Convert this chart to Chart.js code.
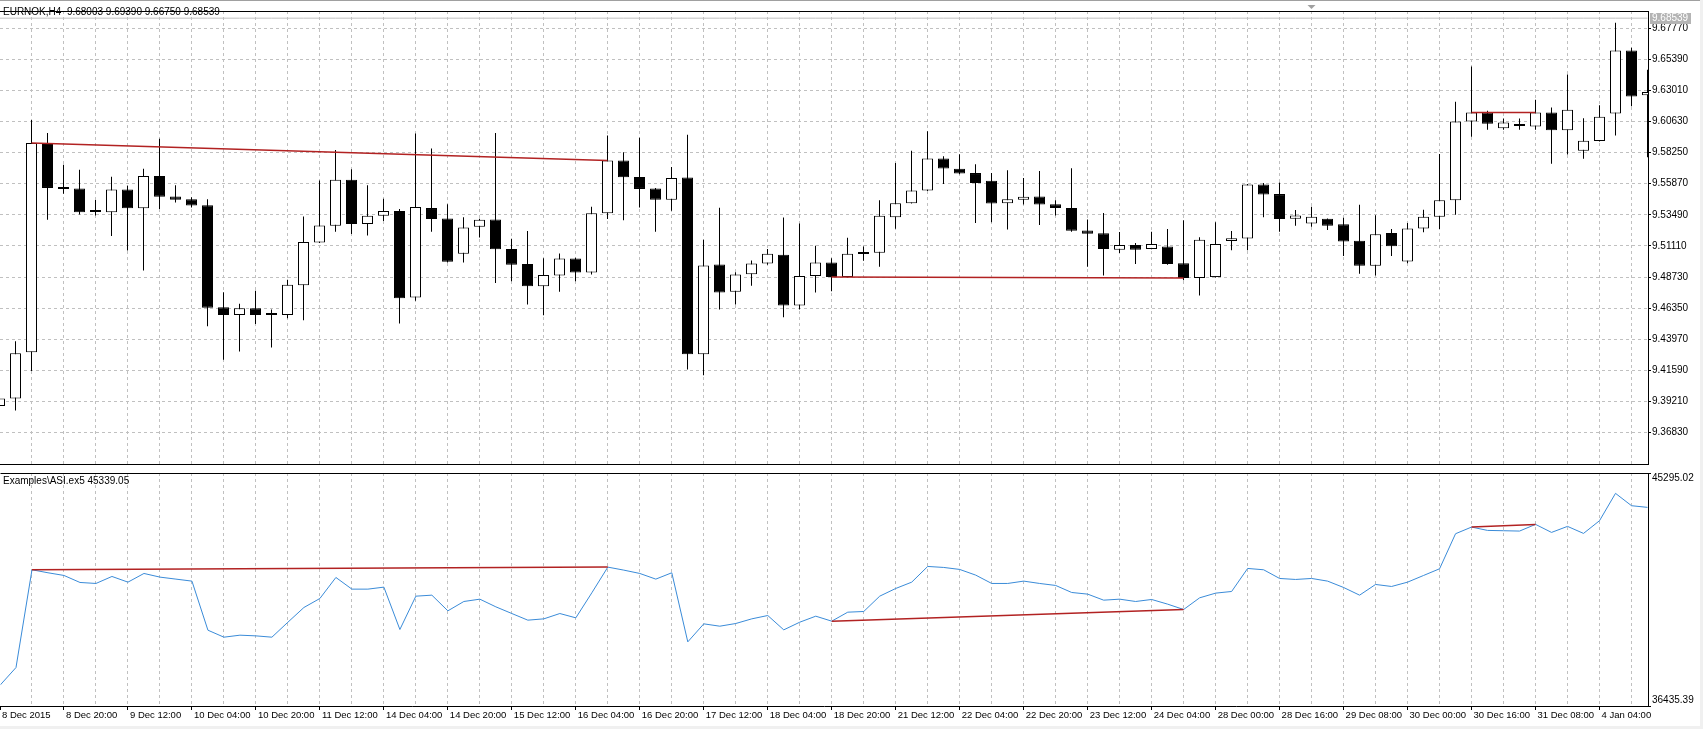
<!DOCTYPE html>
<html><head><meta charset="utf-8">
<script src="https://cdn.jsdelivr.net/npm/chart.js"></script>
<style>
html,body{margin:0;padding:0;background:#fff;width:1703px;height:729px;overflow:hidden;position:relative}
canvas{position:absolute;left:0}
#cA{top:4px}
#cB{top:471px}
.strip{position:absolute}
</style></head><body>
<canvas id="cA" width="1703" height="467" style="width:1703px;height:467px"></canvas>
<canvas id="cB" width="1703" height="258" style="width:1703px;height:258px"></canvas>
<div class="strip" style="left:0;top:0;width:1703px;height:1px;background:#a0a0a0"></div>
<div class="strip" style="left:0;top:726px;width:1703px;height:3px;background:#f0f0f0"></div>
<div class="strip" style="left:1700px;top:0;width:3px;height:729px;background:#f0f0f0"></div>
<script>
// ---------------- data ----------------
const symbolLabel = 'EURNOK,H4';
const headerOHLC = [9.68003, 9.69390, 9.66750, 9.68539];
const bidPrice = 9.68539;
const indicatorName = 'Examples\\ASI.ex5';
const asiCurrent = 45339.05;
const asiMin = 36435.39;
const asiMax = 45295.02;

const timeLabels = ["8 Dec 2015","8 Dec 20:00","9 Dec 12:00","10 Dec 04:00","10 Dec 20:00","11 Dec 12:00",
  "14 Dec 04:00","14 Dec 20:00","15 Dec 12:00","16 Dec 04:00","16 Dec 20:00","17 Dec 12:00","18 Dec 04:00",
  "18 Dec 20:00","21 Dec 12:00","22 Dec 04:00","22 Dec 20:00","23 Dec 12:00","24 Dec 04:00","28 Dec 00:00",
  "28 Dec 16:00","29 Dec 08:00","30 Dec 00:00","30 Dec 16:00","31 Dec 08:00","4 Jan 04:00"];

const priceTicks = [9.67770,9.65390,9.63010,9.60630,9.58250,9.55870,9.53490,9.51110,9.48730,9.46350,9.43970,9.41590,9.39210,9.36830];

const openP = [9.38860,9.39433,9.42978,9.58994,9.55597,9.55498,9.53762,9.53688,9.55424,9.53986,
9.56465,9.54903,9.54680,9.54234,9.46424,9.45829,9.46350,9.45829,9.45829,9.48110,
9.51383,9.52647,9.56167,9.52796,9.53416,9.53787,9.47168,9.54011,9.53217,9.50515,
9.52573,9.53143,9.50887,9.49721,9.48036,9.48854,9.50143,9.49077,9.53614,9.57655,
9.56391,9.55498,9.54655,9.56341,9.42829,9.49697,9.47614,9.48953,9.49771,9.50440,
9.46548,9.48804,9.49846,9.48730,9.50589,9.50589,9.53316,9.54382,9.55349,9.57804,
9.57010,9.56688,9.56093,9.54382,9.54655,9.54903,9.54308,9.54010,9.52300,9.52077,
9.50812,9.51184,9.50887,9.51060,9.49796,9.48655,9.48730,9.51482,9.51680,9.55820,
9.55077,9.53193,9.52820,9.53192,9.52771,9.51507,9.49597,9.52101,9.49920,9.52449,
9.53341,9.54606,9.60630,9.61324,9.60109,9.60282,9.60258,9.61324,9.59961,9.58399,
9.59142,9.61250,9.66059,9.62639];

const highP = [9.39600,9.43821,9.60754,9.59762,9.57333,9.56936,9.54630,9.56415,9.55721,9.57010,
9.59316,9.55746,9.54829,9.54680,9.47565,9.46697,9.47689,9.46250,9.48532,9.53366,
9.56118,9.58448,9.56986,9.55746,9.54730,9.53936,9.59713,9.58572,9.54308,9.53316,
9.53200,9.59762,9.51655,9.52250,9.50168,9.50540,9.50200,9.54110,9.59564,9.58275,
9.59390,9.55550,9.57159,9.59614,9.51581,9.54036,9.49102,9.49994,9.50887,9.53292,
9.52821,9.51135,9.50168,9.51730,9.51060,9.54606,9.57457,9.58399,9.59886,9.57977,
9.58126,9.57357,9.56688,9.56911,9.56316,9.56837,9.54606,9.57060,9.53143,9.53638,
9.52176,9.51333,9.52201,9.52399,9.53068,9.51779,9.52919,9.52250,9.55850,9.55919,
9.55969,9.53862,9.54110,9.53220,9.53267,9.54259,9.53465,9.52399,9.52870,9.53886,
9.58151,9.62142,9.64845,9.61448,9.60853,9.60853,9.62291,9.61696,9.64225,9.60878,
9.61870,9.68191,9.66282,9.64597];

const lowP = [9.38700,9.38516,9.41540,9.53118,9.55101,9.53515,9.53440,9.51878,9.50763,9.49226,
9.53936,9.54432,9.54060,9.44961,9.42408,9.43027,9.45135,9.43350,9.45581,9.45432,
9.51333,9.52201,9.52027,9.51903,9.53019,9.45185,9.46920,9.52201,9.49845,9.49845,
9.51754,9.48284,9.48408,9.46623,9.45804,9.47614,9.48408,9.48928,9.53168,9.53069,
9.54060,9.52201,9.53812,9.41664,9.41218,9.46251,9.46622,9.48061,9.49672,9.45656,
9.46251,9.47540,9.47639,9.48700,9.49970,9.49523,9.52424,9.54350,9.55320,9.55845,
9.56600,9.52870,9.52920,9.52374,9.54283,9.52721,9.53440,9.52201,9.49523,9.48854,
9.50564,9.49721,9.50850,9.49680,9.48481,9.47316,9.48700,9.50787,9.50787,9.53316,
9.52201,9.52647,9.52572,9.52325,9.50341,9.48978,9.48854,9.50341,9.49796,9.52151,
9.52399,9.53490,9.59465,9.60010,9.60010,9.60010,9.60010,9.57407,9.58101,9.57779,
9.59100,9.59564,9.61795,9.57903];

const closeP = [9.39433,9.42904,9.58994,9.55548,9.55473,9.53688,9.53713,9.55424,9.53986,9.56465,
9.54878,9.54655,9.54209,9.46374,9.45829,9.46350,9.45829,9.45850,9.48135,9.51407,
9.52672,9.56167,9.52796,9.53416,9.53787,9.47118,9.54085,9.53168,9.49895,9.52523,
9.53118,9.50862,9.49672,9.48036,9.48879,9.50143,9.49077,9.53614,9.57655,9.56366,
9.55473,9.54655,9.56316,9.42829,9.49622,9.47540,9.48928,9.49771,9.50515,9.46548,
9.48804,9.49846,9.48730,9.50515,9.50490,9.53416,9.54382,9.55349,9.57804,9.57035,
9.56663,9.55919,9.54358,9.54680,9.54878,9.54283,9.54010,9.52275,9.52052,9.50887,
9.51185,9.50812,9.51259,9.49721,9.48655,9.51581,9.51259,9.51705,9.55820,9.55052,
9.53168,9.53440,9.53341,9.52647,9.51457,9.49597,9.52002,9.51085,9.52449,9.53341,
9.54606,9.60630,9.61324,9.60456,9.60555,9.60332,9.61324,9.59961,9.61523,9.59167,
9.61002,9.66059,9.62539,9.62886];

const asiValues = [37224,37897,41615,41501,41399,41133,41095,41361,41145,41475,
41336,41260,41184,39318,39052,39128,39102,39052,39622,40181,
40524,41323,40879,40879,40955,39344,40612,40650,40054,40409,
40498,40206,39952,39699,39749,39952,39788,40739,41716,41602,
41475,41260,41501,38874,39559,39470,39572,39749,39876,39331,
39622,39851,39661,40003,40029,40612,40904,41145,41742,41704,
41628,41412,41095,41095,41184,41095,41019,40752,40689,40460,
40498,40409,40486,40308,40105,40549,40727,40790,41666,41615,
41285,41247,41285,41184,40942,40650,41057,40980,41145,41399,
41653,42986,43239,43112,43100,43087,43341,43036,43265,42998,
43480,44521,44051,43988];

// trend lines: pairs of bar indices
const trendPairs = [[2,38],[52,74],[92,96]];

// ---------------- axis config ----------------
const xMin = 0.03125, xMax = 103.03125;
const yMin = 9.34428, yMax = 9.69087;
const FONT = '"Liberation Sans", Arial, sans-serif';
const font10 = {family: FONT, size: 10};
const font95 = {family: FONT, size: 9.5};
const GRID = '#c0c0c0';
const RED = '#b22222';

const idx = closeP.map((_, i) => i);
const gridTicks = idx.filter(i => i % 2 === 0);
const gridColorFn = c => (c.tick && c.tick.value === 0) ? 'rgba(0,0,0,0)' : GRID;

const frameA = {
  id: 'frameA',
  afterDraw(chart) {
    const {ctx, chartArea: a, scales: {x, y}} = chart;
    ctx.save();
    ctx.fillStyle = '#000';
    ctx.fillRect(a.left, a.top, a.right - a.left, 1);
    ctx.fillRect(a.left, a.bottom, a.right - a.left + 1, 1);
    const by = y.getPixelForValue(bidPrice);
    ctx.fillStyle = '#b4b4b4';
    ctx.fillRect(a.right + 2, Math.round(by) - 5, 41, 11);
    ctx.font = '10px ' + FONT;
    ctx.textBaseline = 'middle';
    ctx.textAlign = 'left';
    ctx.fillStyle = '#ffffff';
    ctx.fillText(bidPrice.toFixed(5), a.right + 4, Math.round(by) + 0.5);
    const tx = x.getPixelForValue(82);
    ctx.fillStyle = '#a0a0a0';
    ctx.beginPath();
    ctx.moveTo(tx - 4, 1); ctx.lineTo(tx + 4, 1); ctx.lineTo(tx, 5); ctx.closePath();
    ctx.fill();
    ctx.fillStyle = '#000';
    ctx.fillText(symbolLabel + '  ' + headerOHLC.map(v => v.toFixed(5)).join(' '), 3, 8);
    ctx.restore();
  }
};

const frameB = {
  id: 'frameB',
  afterDraw(chart) {
    const {ctx, chartArea: a, scales: {y}} = chart;
    ctx.save();
    ctx.fillStyle = '#000';
    ctx.fillRect(a.left, a.top, a.right - a.left, 1);
    ctx.font = '10px ' + FONT;
    ctx.textBaseline = 'middle';
    ctx.textAlign = 'left';
    ctx.fillText(indicatorName + ' ' + asiCurrent.toFixed(2), 3, 10.5);
    ctx.fillText(asiMax.toFixed(2), a.right + 4, y.getPixelForValue(asiMax) + 5);
    ctx.fillText(asiMin.toFixed(2), a.right + 4, y.getPixelForValue(asiMin) - 5.5);
    ctx.restore();
  }
};

new Chart(document.getElementById('cA'), {
  type: 'bar',
  data: {
    datasets: [
      ...trendPairs.map(([a, b]) => ({
        type: 'line', data: [{x: a, y: closeP[a]}, {x: b, y: closeP[b]}],
        borderColor: RED, borderWidth: 1.5, pointRadius: 0, tension: 0
      })),
      {
        label: 'body',
        data: idx.map(i => ({x: i, y: [openP[i], closeP[i]]})),
        backgroundColor: idx.map(i => closeP[i] >= openP[i] ? '#ffffff' : '#000000'),
        borderColor: '#000000', borderWidth: 1, borderSkipped: false,
        barThickness: 11, maxBarThickness: 11, minBarLength: 2, inflateAmount: 0,
        grouped: false, clip: 0
      },
      {
        label: 'wick',
        data: idx.map(i => ({x: i, y: [lowP[i], highP[i]]})),
        backgroundColor: '#000000', borderWidth: 0,
        barThickness: 1, maxBarThickness: 1, inflateAmount: 0,
        grouped: false, clip: 0
      },
      {
        type: 'line', data: idx.map(i => ({x: i, y: bidPrice})),
        borderColor: '#c0c0c0', borderWidth: 1, pointRadius: 0
      }
    ]
  },
  options: {
    animation: false, responsive: false, devicePixelRatio: 1, events: [],
    layout: {padding: {top: 0, right: 0, bottom: 1, left: 0}, autoPadding: false},
    plugins: {legend: {display: false}, tooltip: {enabled: false}},
    scales: {
      x: {
        type: 'linear', min: xMin, max: xMax, offset: false,
        afterFit: s => { s.height = 0; },
        afterBuildTicks: s => { s.ticks = gridTicks.map(v => ({value: v})); },
        ticks: {display: false},
        grid: {color: gridColorFn, drawTicks: false, offset: false, lineWidth: 1},
        border: {display: false, dash: [3, 3]}
      },
      y: {
        position: 'right', min: yMin, max: yMax, beginAtZero: false,
        afterFit: s => { s.width = 55; },
        afterBuildTicks: s => { s.ticks = priceTicks.map(v => ({value: v})); },
        ticks: {autoSkip: false, padding: 1, color: '#000', font: font10, callback: v => Number(v).toFixed(5)},
        grid: {color: GRID, tickColor: '#000', tickLength: 3, lineWidth: 1},
        border: {display: true, color: '#000', width: 1, dash: [3, 3]}
      }
    }
  },
  plugins: [frameA]
});

new Chart(document.getElementById('cB'), {
  type: 'line',
  data: {
    datasets: [
      ...trendPairs.map(([a, b]) => ({
        data: [{x: a, y: asiValues[a]}, {x: b, y: asiValues[b]}],
        borderColor: RED, borderWidth: 1.5, pointRadius: 0, tension: 0
      })),
      {
        data: idx.map(i => ({x: i, y: asiValues[i]})),
        borderColor: '#3a8bd8', borderWidth: 1, pointRadius: 0, tension: 0
      }
    ]
  },
  options: {
    animation: false, responsive: false, devicePixelRatio: 1, events: [],
    layout: {padding: {top: 2, right: 0, bottom: 0, left: 0}, autoPadding: false},
    plugins: {legend: {display: false}, tooltip: {enabled: false}},
    scales: {
      x: {
        type: 'linear', min: xMin, max: xMax, offset: false,
        afterFit: s => { s.height = 23; },
        afterBuildTicks: s => { s.ticks = gridTicks.map(v => ({value: v})); },
        ticks: {
          autoSkip: false, maxRotation: 0, minRotation: 0, align: 'start', labelOffset: 2, padding: 0,
          color: '#000', font: font95,
          callback: v => (v % 4 === 0 ? timeLabels[v / 4] : '')
        },
        grid: {
          color: gridColorFn,
          tickColor: c => (c.tick && c.tick.value % 4 === 0) ? '#000' : 'rgba(0,0,0,0)',
          tickLength: 4, offset: false
        },
        border: {display: true, color: '#000', dash: [3, 3]}
      },
      y: {
        position: 'right', min: asiMin, max: asiMax,
        afterFit: s => { s.width = 55; },
        afterBuildTicks: s => { s.ticks = [{value: asiMin}, {value: asiMax}]; },
        ticks: {display: false},
        grid: {drawOnChartArea: false, tickColor: '#000', tickLength: 3},
        border: {display: true, color: '#000'}
      }
    }
  },
  plugins: [frameB]
});
</script>
</body></html>
